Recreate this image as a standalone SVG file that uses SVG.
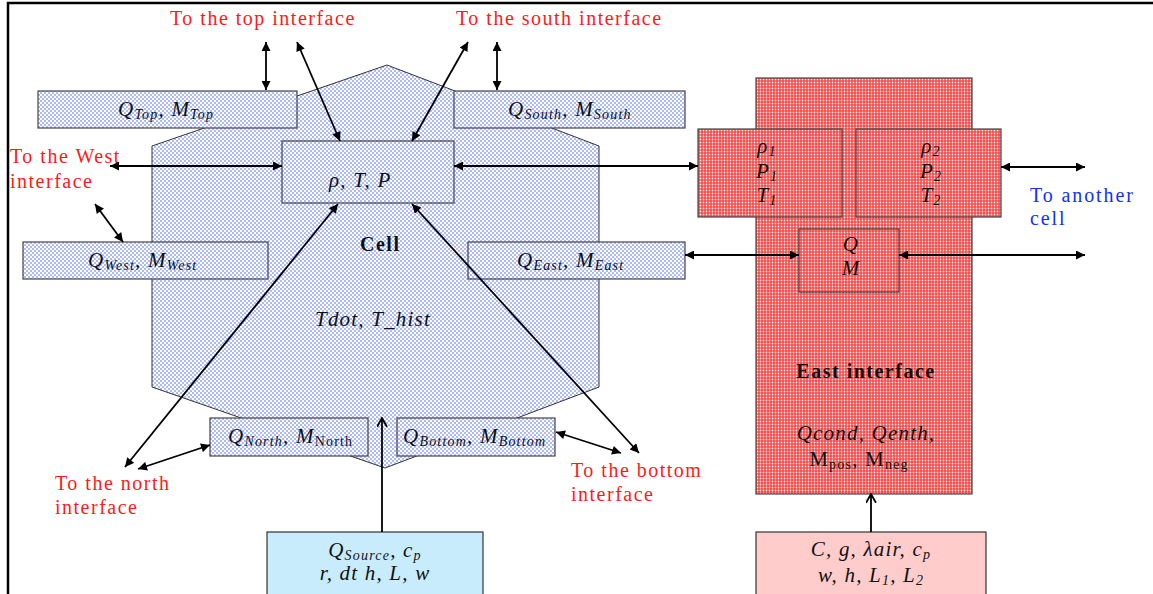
<svg xmlns="http://www.w3.org/2000/svg" width="1153" height="594" viewBox="0 0 1153 594">
<defs>
<pattern id="pb" width="4" height="4" patternUnits="userSpaceOnUse"><rect width="4" height="4" fill="#ffffff"/><circle cx="1" cy="1" r="0.75" fill="#3050ff"/><circle cx="3" cy="3" r="0.75" fill="#3050ff"/></pattern>
<pattern id="pr" width="3" height="3" patternUnits="userSpaceOnUse"><rect width="3" height="3" fill="#f24a4a"/><circle cx="1.5" cy="1.5" r="0.9" fill="#ffe4e4"/></pattern>
<marker id="ah" viewBox="0 0 10 10" refX="10" refY="5" markerWidth="11" markerHeight="9" markerUnits="userSpaceOnUse" orient="auto-start-reverse"><path d="M0,0 L10,5 L0,10 z" fill="#000"/></marker>
<marker id="av" viewBox="0 0 10 10" refX="9" refY="5" markerWidth="11" markerHeight="11" markerUnits="userSpaceOnUse" orient="auto"><path d="M1,0.5 L9,5 L1,9.5" fill="none" stroke="#000" stroke-width="1.6"/></marker>
</defs>
<style>
.bx{fill:url(#pb);stroke:#444;stroke-width:1.2}
.rx{fill:url(#pr);stroke:#444;stroke-width:1.2}
.lb{font-family:"Liberation Serif",serif;font-style:italic;font-size:21px;letter-spacing:1.2px;fill:#111}
.up{font-family:"Liberation Serif",serif;font-size:21px;letter-spacing:1.2px;fill:#111}
.bd{font-family:"Liberation Serif",serif;font-weight:bold;font-size:20px;letter-spacing:1.5px;fill:#111}
.red{font-family:"Liberation Serif",serif;font-size:20px;letter-spacing:1.5px;fill:#ff1a1a}
.blu{font-family:"Liberation Serif",serif;font-size:20px;letter-spacing:1.9px;fill:#1030ff}
.sb{font-size:14px}
.cn line{stroke:#000;stroke-width:1.8}
.dbl{marker-start:url(#ah);marker-end:url(#ah)}
.opn{marker-end:url(#av)}
</style>
<rect x="8" y="3" width="1160" height="620" fill="#fff" stroke="#000" stroke-width="2.5"/>

<g id="cell">
<polygon points="387,65 599,146 599,387 385,468 152,387 152,146" fill="url(#pb)" stroke="#333" stroke-width="1"/>
<text class="bd" x="360" y="251">Cell</text>
<text class="lb" x="315" y="326">Tdot, T_hist</text>
</g>

<g id="rtp">
<rect class="bx" x="282" y="141" width="172" height="62"/>
<text class="lb" x="329" y="187">ρ, T, P</text>
</g>

<g id="qtop">
<rect class="bx" x="38" y="91" width="259" height="37"/>
<text class="lb" x="118" y="116">Q<tspan class="sb" dy="3">Top</tspan><tspan dy="-3">, M</tspan><tspan class="sb" dy="3">Top</tspan></text>
</g>

<g id="qsouth">
<rect class="bx" x="454" y="91" width="231" height="37"/>
<text class="lb" x="508" y="116">Q<tspan class="sb" dy="3">South</tspan><tspan dy="-3">, M</tspan><tspan class="sb" dy="3">South</tspan></text>
</g>

<g id="qwest">
<rect class="bx" x="23" y="242" width="245" height="37"/>
<text class="lb" x="88" y="267">Q<tspan class="sb" dy="3">West</tspan><tspan dy="-3">, M</tspan><tspan class="sb" dy="3">West</tspan></text>
</g>

<g id="qeast">
<rect class="bx" x="468" y="242" width="217" height="37"/>
<text class="lb" x="517" y="267">Q<tspan class="sb" dy="3">East</tspan><tspan dy="-3">, M</tspan><tspan class="sb" dy="3">East</tspan></text>
</g>

<g id="qnorth">
<rect class="bx" x="210" y="418" width="158" height="38"/>
<text class="lb" x="228" y="443">Q<tspan class="sb" dy="3">North</tspan><tspan dy="-3">, M</tspan><tspan class="sb" dy="3" font-style="normal">North</tspan></text>
</g>

<g id="qbottom">
<rect class="bx" x="397" y="418" width="158" height="38"/>
<text class="lb" x="403" y="443" letter-spacing="0.6">Q<tspan class="sb" dy="3">Bottom</tspan><tspan dy="-3">, M</tspan><tspan class="sb" dy="3">Bottom</tspan></text>
</g>

<g id="source">
<rect x="267" y="532" width="216" height="80" fill="#c8ecfc" stroke="#333" stroke-width="1.2"/>
<text class="lb" x="375" y="557" text-anchor="middle">Q<tspan class="sb" dy="3">Source</tspan><tspan dy="-3">, c</tspan><tspan class="sb" dy="3">p</tspan></text>
<text class="lb" x="375" y="580" text-anchor="middle">r, dt h, L, w</text>
</g>

<g id="east">
<rect class="rx" x="756" y="78" width="216" height="416"/>
<text class="bd" x="866" y="378" text-anchor="middle">East interface</text>
<text class="lb" x="866" y="440" text-anchor="middle">Qcond, Qenth,</text>
<text class="up" x="859" y="466" text-anchor="middle">M<tspan class="sb" dy="3">pos</tspan><tspan dy="-3">, M</tspan><tspan class="sb" dy="3">neg</tspan></text>
</g>

<g id="side1">
<rect class="rx" x="698" y="129" width="144" height="88"/>
<text class="lb" x="767" y="153" text-anchor="middle">ρ<tspan class="sb" dy="3">1</tspan></text>
<text class="lb" x="767" y="178" text-anchor="middle">P<tspan class="sb" dy="3">1</tspan></text>
<text class="lb" x="767" y="202" text-anchor="middle">T<tspan class="sb" dy="3">1</tspan></text>
</g>

<g id="side2">
<rect class="rx" x="856" y="129" width="145" height="88"/>
<text class="lb" x="931" y="153" text-anchor="middle">ρ<tspan class="sb" dy="3">2</tspan></text>
<text class="lb" x="931" y="178" text-anchor="middle">P<tspan class="sb" dy="3">2</tspan></text>
<text class="lb" x="931" y="202" text-anchor="middle">T<tspan class="sb" dy="3">2</tspan></text>
</g>

<g id="qm">
<rect class="rx" x="799" y="229" width="100" height="63"/>
<text class="lb" x="851" y="251" text-anchor="middle">Q</text>
<text class="lb" x="851" y="275" text-anchor="middle">M</text>
</g>

<g id="params">
<rect x="756" y="532" width="230" height="80" fill="#ffcccc" stroke="#333" stroke-width="1.2"/>
<text class="lb" x="871" y="556" text-anchor="middle">C, g, λair, c<tspan class="sb" dy="3">p</tspan></text>
<text class="lb" x="871" y="582" text-anchor="middle">w, h, L<tspan class="sb" dy="3">1</tspan><tspan dy="-3">, L</tspan><tspan class="sb" dy="3">2</tspan></text>
</g>

<g id="labels">
<text class="red" x="170" y="25">To the top interface</text>
<text class="red" x="456" y="25">To the south interface</text>
<text class="red" x="10" y="163">To the West</text>
<text class="red" x="10" y="188">interface</text>
<text class="red" x="55" y="490">To the north</text>
<text class="red" x="55" y="514">interface</text>
<text class="red" x="571" y="477">To the bottom</text>
<text class="red" x="571" y="501">interface</text>
<text class="blu" x="1030" y="202">To another</text>
<text class="blu" x="1030" y="225">cell</text>
</g>

<g id="connectors" class="cn">
<line class="dbl" x1="266" y1="42" x2="266" y2="90"/>
<line class="dbl" x1="297" y1="42" x2="340" y2="141"/>
<line class="dbl" x1="468" y1="42" x2="412" y2="141"/>
<line class="dbl" x1="497" y1="42" x2="497" y2="90"/>
<line class="dbl" x1="110" y1="166" x2="282" y2="166"/>
<line class="dbl" x1="454" y1="166" x2="698" y2="166"/>
<line class="dbl" x1="95" y1="204" x2="123" y2="242"/>
<line class="dbl" x1="685" y1="255" x2="799" y2="255"/>
<line class="dbl" x1="899" y1="255" x2="1085" y2="255"/>
<line class="dbl" x1="1001" y1="167" x2="1085" y2="167"/>
<line class="dbl" x1="338" y1="204" x2="125" y2="467"/>
<line class="dbl" x1="210" y1="445" x2="138" y2="469"/>
<line class="dbl" x1="412" y1="204" x2="639" y2="453"/>
<line class="dbl" x1="556" y1="432" x2="621" y2="453"/>
<line class="opn" x1="382" y1="532" x2="382" y2="418"/>
<line class="opn" x1="871" y1="532" x2="871" y2="494"/>
</g>
</svg>
